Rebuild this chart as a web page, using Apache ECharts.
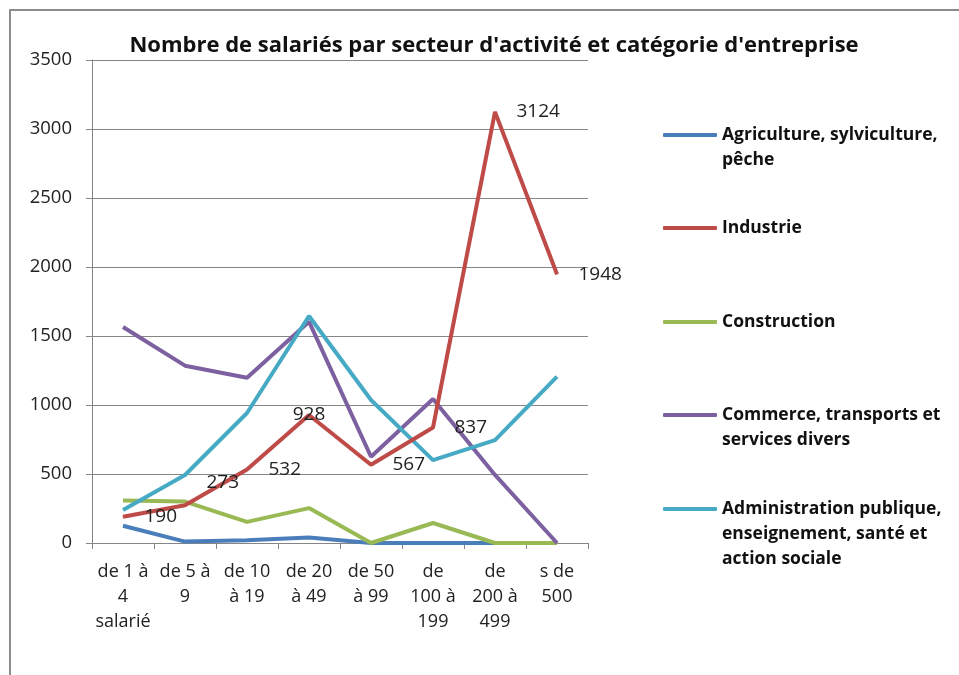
<!DOCTYPE html>
<html>
<head>
<meta charset="utf-8">
<script src="https://cdn.jsdelivr.net/npm/echarts@6/dist/echarts.min.js"></script>
<style>
  html, body { margin: 0; padding: 0; background: #fff; }
  #main { width: 959px; height: 675px; }
</style>
</head>
<body>
<div id="main"></div>
<script>
var dom = document.getElementById("main");
var myChart = echarts.init(dom);

// tranches d'effectif (libellés tels qu'affichés, coupés sur plusieurs lignes)
var categories = ["de 1 à\n4\nsalarié", "de 5 à\n9", "de 10\nà 19", "de 20\nà 49", "de 50\nà 99", "de\n100 à\n199", "de\n200 à\n499", "s de\n500"];

var seriesNames = [
  "Agriculture, sylviculture, pêche",
  "Industrie",
  "Construction",
  "Commerce, transports et services divers",
  "Administration publique, enseignement, santé et action sociale"
];

var agriculture = [125, 10, 20, 40, 0, 0, 0, 0];
var industrie = [190, 273, 532, 928, 567, 837, 3124, 1948];
var construction = [308, 300, 153, 253, 0, 145, 0, 0];
var commerce = [1565, 1285, 1198, 1604, 625, 1043, 493, 0];
var administration = [239, 493, 942, 1645, 1036, 601, 746, 1205];

var yTicks = [0, 500, 1000, 1500, 2000, 2500, 3000, 3500];

var colors = ['#4a7ebb', '#be4b48', '#98b954', '#7d60a0', '#46aac5'];

// libellés de légende coupés comme dans l'original
var legendLines = {
  "Agriculture, sylviculture, pêche": ["Agriculture, sylviculture,", "pêche"],
  "Industrie": ["Industrie"],
  "Construction": ["Construction"],
  "Commerce, transports et services divers": ["Commerce, transports et", "services divers"],
  "Administration publique, enseignement, santé et action sociale": ["Administration publique,", "enseignement, santé et", "action sociale"]
};

var FONT = 'Open Sans';
var LH = 25;
var legendCenters = [135, 228, 322, 415, 509];

var legends = seriesNames.map(function (name, i) {
  var n = legendLines[name].length;
  var total = 2 * n - 1;
  return {
    orient: 'vertical',
    left: 663,
    top: legendCenters[i] - total * LH / 2,
    padding: 0,
    data: [name],
    icon: 'roundRect',
    itemWidth: 54,
    itemHeight: 4,
    selectedMode: false,
    formatter: function (nm) {
      var lines = legendLines[nm];
      var pad = [];
      for (var k = 1; k < lines.length; k++) pad.push('');
      return pad.concat(lines).join('\n');
    },
    textStyle: {
      fontFamily: FONT,
      fontSize: 17.5,
      fontWeight: 'bold',
      color: '#111',
      lineHeight: LH
    }
  };
});

var industrieData = industrie.map(function (v, i) {
  var d = { value: v };
  if (i === 1) d.label = { offset: [0, -23] };
  if (i === 3) d.label = { position: 'inside' };
  return d;
});

var allData = [agriculture, industrieData, construction, commerce, administration];

option = {
  animation: false,
  backgroundColor: '#fff',
  color: colors,
  title: {
    text: "Nombre de salariés par secteur d'activité et catégorie d'entreprise",
    left: 489,
    textAlign: 'center',
    top: 30,
    textStyle: {
      fontFamily: FONT,
      fontSize: 22,
      fontWeight: 'bold',
      color: '#111'
    }
  },
  graphic: [{
    type: 'rect',
    shape: { x: 10, y: 10, width: 1000, height: 700 },
    style: { fill: 'none', stroke: '#8c8c8c', lineWidth: 2 },
    silent: true
  }],
  legend: legends,
  grid: {
    left: 92,
    right: 371,
    top: 60,
    bottom: 132
  },
  xAxis: {
    type: 'category',
    data: categories,
    boundaryGap: true,
    axisLine: { lineStyle: { color: '#868686', width: 1 } },
    axisTick: { show: true, length: 6, lineStyle: { color: '#868686' } },
    axisLabel: {
      interval: 0,
      margin: 16,
      fontFamily: FONT,
      fontSize: 18,
      lineHeight: LH,
      color: '#222'
    },
    splitLine: { show: false }
  },
  yAxis: {
    type: 'value',
    min: 0,
    max: 3500,
    interval: 500,
    axisLine: { show: true, lineStyle: { color: '#868686', width: 1 } },
    axisTick: { show: true, length: 6, lineStyle: { color: '#868686' } },
    axisLabel: {
      margin: 20,
      fontFamily: FONT,
      fontSize: 18.5,
      color: '#222',
      formatter: function (v) { return yTicks.indexOf(v) >= 0 ? String(v) : ''; }
    },
    splitLine: { show: true, lineStyle: { color: '#868686', width: 1 } }
  },
  series: seriesNames.map(function (name, i) {
    var isInd = i === 1;
    return {
      name: name,
      type: 'line',
      data: allData[i],
      z: isInd ? 3 : 2,
      showSymbol: isInd,
      symbol: isInd ? 'circle' : 'none',
      symbolSize: 1,
      lineStyle: { width: 4, color: colors[i] },
      itemStyle: { color: colors[i] },
      label: isInd ? {
        show: true,
        position: 'right',
        distance: 21,
        fontFamily: FONT,
        fontSize: 19,
        color: '#222'
      } : { show: false }
    };
  })
};

if (option && typeof option === "object") {
  myChart.setOption(option, true);
}
</script>
</body>
</html>
